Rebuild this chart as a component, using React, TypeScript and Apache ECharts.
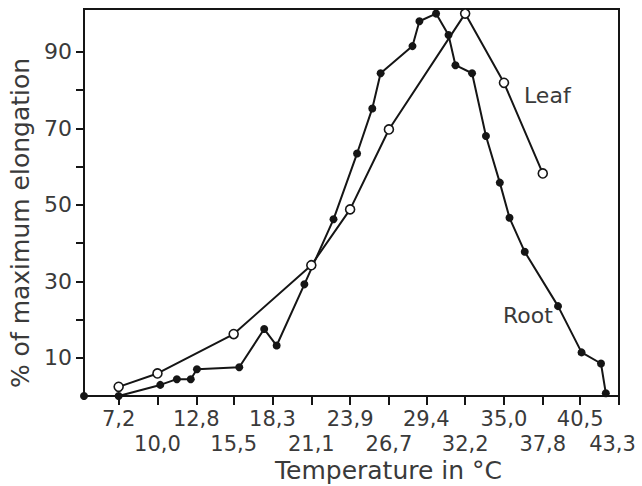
import React, { useEffect, useRef } from "react";
import * as echarts from "echarts";

// Temperature (°C) tick positions and their printed labels
const tickValues = [7.2, 10.0, 12.8, 15.5, 18.3, 21.1, 23.9, 26.7, 29.4, 32.2, 35.0, 37.8, 40.5, 43.3];
const tickLabels = ["7,2", "10,0", "12,8", "15,5", "18,3", "21,1", "23,9", "26,7", "29,4", "32,2", "35,0", "37,8", "40,5", "43,3"];

// y axis
const yTickValues = [10, 20, 30, 40, 50, 60, 70, 80, 90];
const yLabelValues = [10, 30, 50, 70, 90];

// Leaf series (open circles)
const leafTemps = [7.2, 10.0, 15.5, 21.1, 23.9, 26.7, 32.2, 35.0, 37.8];
const leafValues = [2.4, 5.9, 16.2, 34.2, 48.8, 69.7, 100, 81.9, 58.2];

// Root series (filled dots)
const rootTemps = [4.7, 7.2, 10.2, 11.4, 12.4, 12.85, 15.9, 17.7, 18.6, 20.6, 22.7, 24.4, 25.5, 26.1, 28.4, 28.9, 30.1, 31.0, 31.5, 32.7, 33.7, 34.7, 35.4, 36.5, 38.9, 40.6, 42.0, 42.35];
const rootValues = [0, 0, 2.9, 4.4, 4.4, 7.0, 7.5, 17.5, 13.2, 29.2, 46.2, 63.4, 75.2, 84.4, 91.5, 98.0, 100, 94.4, 86.5, 84.4, 68.0, 55.8, 46.6, 37.7, 23.5, 11.4, 8.5, 0.7];

const INK = "#151515";
const TEXT = "#3a3a3a";
const FONT = "DejaVu Sans";

const X_MIN = 4.7;
const X_MAX = 43.3;

function labelFor(v: number) {
  const i = tickValues.findIndex((t) => Math.abs(t - v) < 1e-6);
  if (i < 0) return "";
  // the last label is nudged inward so it stays inside the page
  return i === tickValues.length - 1 ? "{edge|" + tickLabels[i] + "}" : tickLabels[i];
}

export default function App() {
  const ref = useRef<HTMLDivElement>(null);

  useEffect(() => {
    if (!ref.current) return;
    const chart = echarts.init(ref.current, null, { renderer: "svg" });
    const leafData = leafTemps.map((t, i) => [t, leafValues[i]]);
    const rootData = rootTemps.map((t, i) => [t, rootValues[i]]);
    const upperRow = tickValues.filter((_, i) => i % 2 === 0);
    const lowerRow = tickValues.filter((_, i) => i % 2 === 1);

    const labelStyle = {
      interval: 0,
      showMinLabel: true,
      showMaxLabel: true,
      hideOverlap: false,
      fontFamily: FONT,
      fontSize: 21,
      color: TEXT,
      formatter: (v: number) => labelFor(v),
      rich: {
        edge: { fontFamily: FONT, fontSize: 21, color: TEXT, padding: [0, 13, 0, 0] },
      },
    };

    chart.setOption({
      animation: false,
      backgroundColor: "#ffffff",
      grid: {
        left: 84,
        right: 23,
        top: 9,
        bottom: 90,
        outerBoundsMode: "none",
        containLabel: false,
        show: true,
        borderColor: INK,
        borderWidth: 2,
        backgroundColor: "transparent",
      },
      xAxis: [
        {
          type: "value",
          position: "bottom",
          min: X_MIN,
          max: X_MAX,
          splitLine: { show: false },
          axisLine: { show: true, lineStyle: { color: INK, width: 2 } },
          axisTick: {
            show: true,
            inside: false,
            length: 9,
            interval: 0,
            customValues: tickValues,
            lineStyle: { color: INK, width: 2 },
          },
          axisLabel: { ...labelStyle, customValues: upperRow, margin: 12 },
          name: "Temperature in °C",
          nameLocation: "middle",
          nameGap: 62,
          nameTextStyle: {
            fontFamily: FONT,
            fontSize: 25,
            color: TEXT,
            padding: [0, 0, 0, 74],
          },
        },
        {
          type: "value",
          position: "bottom",
          offset: 0,
          min: X_MIN,
          max: X_MAX,
          splitLine: { show: false },
          axisLine: { show: false },
          axisTick: { show: false },
          axisLabel: { ...labelStyle, customValues: lowerRow, margin: 37 },
        },
      ],
      yAxis: {
        type: "value",
        min: 0,
        max: 101.2,
        splitLine: { show: false },
        axisLine: { show: true, lineStyle: { color: INK, width: 2 } },
        axisTick: {
          show: true,
          inside: false,
          length: 8,
          interval: 0,
          customValues: yTickValues,
          lineStyle: { color: INK, width: 2 },
        },
        axisLabel: {
          customValues: yLabelValues,
          interval: 0,
          showMinLabel: true,
          showMaxLabel: true,
          hideOverlap: false,
          margin: 12,
          fontFamily: FONT,
          fontSize: 22,
          color: TEXT,
          formatter: (v: number) => String(v),
        },
        name: "% of maximum elongation",
        nameLocation: "middle",
        nameRotate: 90,
        nameGap: 50,
        nameTextStyle: {
          fontFamily: FONT,
          fontSize: 25,
          color: TEXT,
          padding: [0, 41, 0, 0],
        },
      },
      series: [
        {
          name: "Root",
          type: "line",
          xAxisIndex: 0,
          data: rootData,
          symbol: "circle",
          symbolSize: 8,
          lineStyle: { color: INK, width: 2 },
          itemStyle: { color: INK },
          z: 3,
        },
        {
          name: "Leaf",
          type: "line",
          xAxisIndex: 0,
          data: leafData,
          symbol: "circle",
          symbolSize: 9,
          lineStyle: { color: INK, width: 2 },
          itemStyle: { color: "#ffffff", borderColor: INK, borderWidth: 1.6 },
          z: 4,
        },
      ],
      graphic: [
        {
          type: "text",
          left: 524,
          top: 84,
          style: { text: "Leaf", fontFamily: FONT, fontSize: 22, fill: TEXT },
        },
        {
          type: "text",
          left: 503,
          top: 304,
          style: { text: "Root", fontFamily: FONT, fontSize: 22, fill: TEXT },
        },
      ],
    });

    return () => chart.dispose();
  }, []);

  return <div ref={ref} style={{ width: 642, height: 486, position: "absolute", left: 0, top: 0 }} />;
}
